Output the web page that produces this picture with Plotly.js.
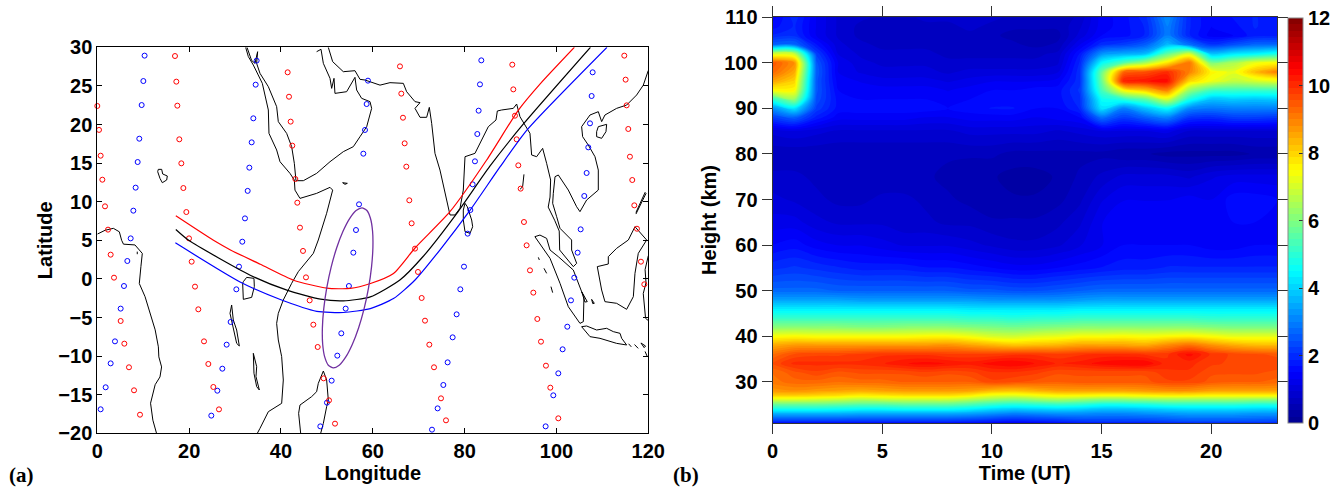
<!DOCTYPE html>
<html><head><meta charset="utf-8">
<script src="https://cdn.plot.ly/plotly-3.0.1.min.js"></script>
<style>html,body{margin:0;padding:0;background:#fff}#p{width:1339px;height:488px}</style>
</head><body><div id="p"></div>
<script>
// ---- panel (a) data: longitude / latitude
const blueLon=[10.3,10.03,9.66,9.15,8.79,8.35,7.85,7.27,6.54,5.81,5.09,3.85,2.91,1.82,0.73,
 34.7,34.49,33.98,33.62,33.11,32.75,32.16,31.58,30.86,30.28,29.04,28.17,27.23,26.14,24.83,
 58.95,58.66,58.3,57.94,57.0,56.34,55.76,54.8,54.09,53.14,52.27,51.04,50.02,48.57,
 83.63,83.34,83.05,82.76,82.25,81.75,81.24,80.66,79.86,79.06,78.26,77.39,76.3,75.36,74.12,72.89,
 107.88,107.66,107.3,106.93,106.57,106.06,105.27,104.61,103.88,103.16,102.36,101.34,100.4,99.31,97.64];
const blueLat=[28.92,25.63,22.52,18.16,15.14,11.82,8.84,5.25,2.32,-0.92,-3.85,-8.09,-10.94,-14.04,-16.89,
 28.27,25.16,20.8,17.69,14.41,11.4,7.84,4.82,1.59,-1.35,-5.58,-8.52,-11.63,-14.48,-17.71,
 25.68,22.65,19.29,16.22,9.66,6.33,3.4,-0.92,-3.85,-7.05,-9.94,-13.18,-16.03,-19.1,
 28.31,25.2,21.79,18.77,15.23,12.25,8.92,5.86,1.59,-1.35,-4.59,-7.57,-10.81,-13.74,-16.77,-19.53,
 26.76,23.69,20.15,17.04,13.72,10.74,6.42,3.4,0.16,-2.78,-6.19,-9.12,-12.23,-15.08,-19.1];
const redLon=[0,0.37,0.73,1.1,1.68,2.33,2.91,3.64,5.09,5.89,6.9,8.0,9.3,
 16.92,17.21,17.43,17.86,18.3,18.74,19.39,19.97,20.55,21.28,22.0,23.24,24.18,25.27,26.5,
 41.46,41.75,42.11,42.47,43.13,43.56,44.14,44.8,45.45,46.25,47.05,48.0,49.3,50.46,51.77,
 65.92,66.21,66.57,66.94,67.3,67.95,68.46,69.19,69.84,70.64,71.37,72.31,73.33,74.85,75.94,
 90.38,90.6,90.96,91.33,91.69,92.2,92.92,93.5,94.23,94.96,95.83,96.63,97.71,98.66,100.4,
 114.77,115.06,115.28,115.64,116.0,116.51,116.95,117.53,118.4,119.13];
const redLat=[22.4,19.3,15.96,12.85,9.4,6.38,3.14,0.16,-5.45,-8.39,-11.45,-14.43,-17.59,
 28.87,25.55,22.44,18.08,14.97,11.77,8.66,5.25,2.23,-1.0,-3.94,-8.09,-11.02,-14.0,-16.9,
 26.76,23.6,20.37,17.26,12.94,9.87,6.64,3.62,0.2,-2.78,-5.93,-8.82,-12.88,-15.73,-18.75,
 27.53,24.0,20.88,17.56,14.54,10.18,7.2,3.92,0.9,-2.47,-5.41,-8.52,-11.45,-15.47,-18.32,
 27.75,24.55,21.14,18.08,14.71,11.69,7.37,4.35,1.11,-1.78,-5.19,-8.13,-11.24,-14.09,-18.06,
 28.92,25.81,22.48,19.42,15.83,12.81,9.53,6.5,2.23,-0.7];

const redCurveLon=[17.1,25.3,29.1,35.5,42.75,50,55.1,59.5,64.5,69.2,76.8,84.8,91.75,96.5,103.9];
const redCurveLat=[8.17,5.0,3.72,1.9,-0.17,-1.2,-1.24,-0.6,0.7,4.0,8.7,15.4,21.9,25.3,30];
const blackCurveLon=[17.1,19.9,33.3,41.3,48.6,53.6,59.45,65.9,70.9,78.3,85.5,92.85,107.4];
const blackCurveLat=[6.4,5.0,0.48,-1.46,-2.63,-2.85,-2.33,-0.14,2.87,8.5,14.6,20.1,30];
const blueCurveLon=[17,31.1,39.85,47.8,53.6,59.45,64.5,69.2,74.6,81.2,87.7,93.6,111];
const blueCurveLat=[4.67,-0.4,-2.67,-4.2,-4.35,-3.85,-2.55,-0.14,3.74,8.9,14.5,19.3,30];

const ellipseLon=[57.65,58.72,59.5,59.95,60.02,59.72,59.07,58.11,56.9,55.53,54.09,52.68,51.4,50.32,49.54,49.09,49.02,49.32,49.97,50.93,52.14,53.51,54.95,56.36,57.65];
const ellipseLat=[9.21,8.86,7.82,6.17,4.03,1.53,-1.16,-3.85,-6.35,-8.49,-10.14,-11.18,-11.53,-11.18,-10.14,-8.49,-6.35,-3.85,-1.16,1.53,4.03,6.17,7.82,8.86,9.21];

// coastlines, pieces separated by null
const coastLon=[
 0,1.7,3.5,4.8,5.3,5.7,8.2,9.3,9.8,9.5,9.15,10.4,11.6,12.6,13.3,13.4,14,13.65,12.6,11.6,12.1,12.9,null,
 32.31,32.89,33.98,35.94,37.25,37.39,39.06,39.79,41.96,42.91,43.05,44.14,47.77,50.68,51.26,49.95,48.13,47.05,43.78,42.33,40.51,39.42,39.06,39.42,40.15,40.51,40.15,37.25,35.43,34.85,null,
 32.6,33.6,34.34,34.92,34.7,35.43,37.25,39.06,39.42,41.24,42.33,42.91,43.27,44.87,47.77,50.68,53.58,55.76,57.21,58.66,59.75,59.39,57.57,56.48,56.12,54.3,51.76,51.55,51.04,50.68,49.23,48.72,47.77,null,
 50.31,51.26,53.58,56.12,57.21,58.3,61.57,63.74,66.65,67.37,69.19,70.28,69.19,70.28,71.73,72.31,72.82,73.54,74.63,75.72,76.81,77.9,78.99,79.71,80.08,82.25,85.16,86.83,87.12,88.06,90.6,91.33,92.05,94.23,94.59,95.68,96.99,97.86,98.73,98.6,98.2,99.6,100.6,100.7,103.67,104.4,103.3,103.3,102.94,100.77,100.04,99.17,99.31,99.68,100.4,101.13,102.58,104.39,105.12,106.57,109.11,109.11,108.39,106.93,105.7,105.48,107.3,109.11,109.84,110.56,113.1,115.28,117.46,118.91,119.78,120,null,
 95.3,96.4,97.86,98.6,100.4,103.67,105.48,105.99,105.85,105.12,102.58,100.77,98.6,95.3,null,
 105.48,107.3,109.48,113.1,115.28,114.2,113.84,112.38,110.93,108.75,106.57,105.48,null,
 108.89,111.29,111.29,113.1,115.65,117.1,119.64,117.82,117.1,116.74,115.28,113.1,110.56,109.84,108.89,null,
 120,119.3,119.5,118.9,119.4,120,null,
 117.31,119.5,119.3,117.31,null,
 49.23,48.13,47.77,46.68,44.14,43.85,44.29,null,
 49.23,49.95,50.31,49.95,49.23,48.65,null,
 31.8,32.53,34.12,34.2,33.62,31.8,31.66,31.8,null,
 29.26,29.62,30.35,30.93,30.35,29.77,28.9,29.26,null,
 33.98,34.71,34.56,35.29,34.71,34.12,33.98,null,
 13.29,14.02,14.24,15.25,15.11,14.16,13.65,13.15,13.29,null,
 53.43,54.45,53.94,53.43,null,
 108.75,109.11,110.93,110.78,109.84,108.75,108.75,null,
 80.08,80.58,81.53,81.75,81.17,80.08,79.71,79.71,80.08,null,
 92.92,92.63,92.05,null,
 96.05,96.27,null,97.28,97.86,null,98.8,99.17,null,
 105.48,106.71,106.2,105.48,null,107.66,108.24,107.9,107.66,null,8.7,8.7,null,
 115.7,116.3,null,117,117.8,null,118.4,119.4,119.1,118.4,null,119.3,119.8];
const coastLat=[
 5.8,6.3,6.55,6.1,5,4.5,4.4,3.7,3.3,1.6,-0.6,-2.3,-4.5,-6.6,-8.8,-10.1,-11.4,-12.7,-13.7,-16.1,-18.3,-20,null,
 30,28.8,27.7,25.33,21.88,18.85,16.7,15.18,13.67,12.81,11.5,10.43,11.08,11.86,11.5,8.5,5.04,3.31,0.94,-0.57,-2.73,-4.46,-5.76,-7.91,-10.07,-13.1,-16.12,-17.2,-19.36,-20,null,
 30,28.3,27.92,29.43,27.92,26.63,24.9,22.31,20.37,18.85,17.13,14.97,12.72,12.72,13.67,15.18,16.48,17.13,18.42,19.7,22.09,22.96,23.39,24.47,26.11,24.25,24.03,25.98,24.68,25.98,27.92,29.74,29.43,null,
 30,28.14,26.84,26.97,25.85,25.76,25.1,25.42,25.33,24.25,22.96,22.83,22.09,20.93,20.93,22.22,20.15,16.26,14.1,11.08,8.28,8.28,9.14,11.51,15.83,16.26,19.72,20.58,21.75,21.88,22.09,22.65,21.01,18.85,16.05,15.83,16.91,14.97,12.81,10.6,9.3,7.6,6.2,3.74,1.59,2.02,3.74,5.04,5.25,6.55,8.06,9.79,11.08,13.24,13.46,12.81,11.51,9.35,8.71,10.22,11.51,14.1,15.83,17.34,18.42,19.72,21.23,21.66,20.37,21.23,22.09,22.52,23.82,25.1,26.63,27,null,
 5.47,5.68,5.25,3.74,2.88,1.15,-1.65,-2.3,-5.54,-5.76,-3.6,-0.57,2.66,5.47,null,
 -6.19,-7.48,-7.7,-8.35,-8.56,-7.7,-7.05,-6.83,-6.4,-6.62,-6.1,-6.19,null,
 1.59,1.93,2.88,3.96,5.04,6.76,5.04,3.31,0.72,-2.3,-3.94,-3.16,-2.95,-1.44,1.59,null,
 3,1.2,-0.5,-1.9,-5.1,-5.4,null,
 8.4,11.08,11.2,8.6,null,
 -11.93,-13.53,-14.61,-15.25,-16.34,-17.41,-20,null,
 -11.93,-13.1,-15.69,-16.55,-18.71,-20,null,
 -0.36,0.2,0.07,-1.0,-2.39,-2.65,-0.57,-0.36,null,
 -3.38,-5.32,-6.62,-8.69,-8.35,-6.62,-4.46,-3.38,null,
 -9.64,-11.37,-12.66,-14.39,-13.96,-12.23,-9.64,null,
 14.19,14.19,13.59,13.33,12.81,12.46,13.02,13.89,14.19,null,
 12.46,12.38,12.25,12.46,null,
 19.07,19.72,20.02,19.07,18.21,18.42,19.07,null,
 9.79,9.35,7.63,6.76,5.9,6.12,7.63,8.92,9.79,null,
 13.54,11.94,11.6,null,
 2.79,2.45,null,1.37,0.72,null,-1.0,-1.78,null,
 -1.65,-2.95,-3.0,-1.65,null,-2.65,-3.16,-3.2,-2.65,null,3.53,3.2,null,
 -8.4,-8.8,null,-8.5,-9.0,null,-8.3,-8.7,-8.9,-8.3,null,-9.4,-10.1];

// ---- panel (b) data
const hours=[0,1,2,3,4,5,6,7,8,9,10,11,12,13,14,15,16,17,18,19,20,21,22,23];
const heights=[21,23,24,25,26,27,28,30,32,34,36,38,40,42,44,46,48,50,55,60,65,70,75,80,85,88,90,92,94,96,98,100,102,104,106,108,110];
const h21=[1.8,1.8,1.8,1.8,1.8,1.8,1.8,1.8,1.8,1.7,1.6,1.5,1.6,1.7,1.9,2.0,2.0,2.0,2.1,2.2,2.2,2.2,2.2,2.1];
const h23=[3.6,3.6,3.6,3.6,3.5,3.5,3.5,3.5,3.5,3.4,3.2,3.0,3.1,3.2,3.2,3.1,3.1,3.2,3.3,3.4,3.4,3.4,3.3,3.3];
const h24=[4.7,4.7,4.7,4.6,4.5,4.5,4.6,4.6,4.6,4.4,4.1,3.9,4.0,4.1,4.0,3.8,3.8,3.9,4.0,4.1,4.1,4.1,4.0,4.0];
const h25=[5.7,5.7,5.7,5.6,5.5,5.5,5.6,5.6,5.6,5.4,5.1,4.9,5.0,5.1,5.0,4.7,4.7,4.8,5.0,5.0,5.0,5.0,4.9,4.9];
const h26=[7.0,7.0,6.9,6.8,6.6,6.7,6.8,6.8,6.8,6.5,6.2,6.0,6.2,6.4,6.2,6.0,6.0,6.1,6.2,6.2,6.2,6.2,6.1,6.1];
const h27=[8.1,8.1,8.0,7.9,7.7,7.8,7.9,7.9,7.9,7.7,7.3,7.2,7.4,7.6,7.6,7.5,7.5,7.6,7.7,7.7,7.6,7.6,7.6,7.6];
const h28=[8.7,8.8,8.7,8.6,8.5,8.6,8.7,8.7,8.7,8.6,8.3,8.2,8.4,8.6,8.6,8.6,8.6,8.7,8.8,8.8,8.6,8.6,8.6,8.6];
const h30=[9.1,9.3,9.3,9.2,9.3,9.3,9.4,9.4,9.4,9.4,9.7,9.6,9.5,9.4,9.5,9.5,9.5,9.5,9.7,9.7,9.5,9.4,9.4,9.3];
const h32=[9.2,9.5,9.7,9.5,9.6,9.6,9.6,9.7,9.6,9.7,9.9,9.9,9.8,9.6,9.6,9.6,9.6,9.6,9.9,9.9,9.6,9.6,9.6,9.5];
const h34=[9.6,10,10,10,10,10.1,10.3,10.4,10.3,10.2,10.4,10.5,10.3,10.1,10.2,10.4,10.5,10.5,10,10,9.8,9.7,9.7,9.7];
const h36=[9.2,9.6,9.7,9.7,9.8,9.9,9.9,9.9,9.8,9.8,9.8,9.9,9.9,9.8,9.9,10,10,9.9,9.9,10.4,9.9,9.7,9.6,9.5];
const h38=[8.5,8.7,8.7,8.7,8.7,8.7,8.7,8.7,8.8,8.6,8.4,8.2,8.3,8.4,8.6,8.6,8.6,8.5,8.9,9.2,8.8,8.5,8.3,8.3];
const h40=[7.4,7.5,7.4,7.4,7.4,7.4,7.4,7.5,7.5,7.3,7.0,6.9,7.1,7.2,7.4,7.4,7.5,7.4,7.5,7.6,7.4,7.2,7.2,7.2];
const h42=[6.1,6.1,6.1,6.1,6.0,6.0,6.1,6.1,6.1,6.0,5.9,5.8,5.9,6.0,6.1,6.1,6.1,6.1,6.1,6.1,6.0,5.9,5.9,5.9];
const h44=[5.1,5.1,5.1,5.1,5.1,5.1,5.1,5.1,5.1,5.0,5.0,4.9,5.0,5.0,5.1,5.1,5.1,5.1,5.1,5.1,5.0,5.0,5.0,5.0];
const h46=[4.3,4.3,4.3,4.3,4.3,4.3,4.3,4.3,4.3,4.2,4.2,4.2,4.2,4.2,4.3,4.3,4.3,4.3,4.3,4.3,4.3,4.3,4.3,4.3];
const h48=[3.4,3.4,3.4,3.4,3.3,3.3,3.3,3.3,3.3,3.3,3.2,3.2,3.2,3.2,3.3,3.4,3.4,3.4,3.4,3.4,3.4,3.4,3.4,3.4];
const h50=[2.7,2.7,2.7,2.6,2.6,2.6,2.6,2.6,2.6,2.5,2.5,2.4,2.4,2.5,2.6,2.7,2.7,2.7,2.7,2.7,2.7,2.7,2.7,2.7];
const h55=[2.0,2.1,2.0,1.9,1.8,1.8,1.8,1.7,1.7,1.6,1.5,1.4,1.4,1.5,1.6,1.7,1.8,1.8,1.9,1.9,1.9,1.9,1.9,1.9];
const h60=[1.5,1.6,1.4,1.3,1.3,1.2,1.1,1.1,1.1,1.0,0.9,0.8,0.8,0.9,1.1,1.3,1.5,1.5,1.5,1.5,1.4,1.4,1.5,1.5];
const h65=[1.2,1.2,1.0,0.9,0.9,0.9,0.8,0.8,0.7,0.7,0.6,0.6,0.6,0.7,0.9,1.3,1.5,1.5,1.5,1.5,1.5,1.5,1.5,1.5];
const h70=[1.0,0.9,0.8,0.7,0.7,0.8,0.8,0.7,0.6,0.5,0.4,0.4,0.4,0.5,0.7,1.1,1.3,1.3,1.3,1.4,1.3,1.6,1.6,1.5];
const h75=[0.8,0.8,0.7,0.6,0.6,0.6,0.6,0.6,0.5,0.4,0.4,0.3,0.3,0.4,0.6,0.8,1.0,1.0,1.0,0.9,1.1,1.2,1.2,1.2];
const h80=[0.6,0.6,0.6,0.6,0.6,0.6,0.6,0.6,0.6,0.6,0.6,0.5,0.5,0.5,0.5,0.5,0.4,0.4,0.3,0.3,0.3,0.3,0.4,0.4];
const h85=[1.0,1.1,1.0,0.9,0.9,0.9,0.9,0.9,0.9,1.0,1.0,1.0,1.0,0.9,1.0,1.1,1.1,1.1,1.2,0.9,0.9,0.9,0.9,0.9];
const h88=[2.2,2.6,1.8,1.4,1.4,1.4,1.4,1.3,1.3,1.4,1.4,1.4,1.3,1.4,1.5,2.8,2.2,2.6,3.0,2.1,2.0,2.2,2.2,2.1];
const h90=[3.2,4.2,2.2,1.6,1.6,1.6,1.6,1.6,1.5,1.6,1.7,1.7,1.5,1.5,1.9,4.2,3.0,3.8,4.5,3.1,2.9,3.0,3.0,3.0];
const h92=[5.0,6.3,2.4,1.6,1.5,1.5,1.5,1.5,1.4,1.5,1.6,1.6,1.6,1.6,2.0,4.6,5.0,5.6,7.0,4.8,3.8,3.9,3.8,3.9];
const h94=[7.5,7.5,2.5,1.5,1.4,1.4,1.4,1.4,1.3,1.4,1.5,1.5,1.6,1.6,2.1,5.3,7.5,8.2,9.0,6.3,5.3,5.2,5.2,5.2];
const h96=[8.6,8.0,2.5,1.4,1.3,1.2,1.2,1.2,1.1,1.2,1.3,1.3,1.3,1.4,2.0,5.7,10.2,10.3,10.4,8.0,7.3,6.8,7.0,7.2];
const h98=[9.3,8.5,2.6,1.3,1.1,1.0,1.0,1.0,0.9,1.0,1.0,1.0,1.0,1.1,2.0,5.7,9.3,9.6,10.0,9.0,7.6,7.2,8.3,9.0];
const h100=[9.5,8.8,2.5,1.3,1.0,0.9,0.9,0.9,0.8,0.8,0.8,0.8,0.8,0.9,1.9,4.5,5.5,6.5,7.8,9.2,6.0,6.5,7.3,7.5];
const h102=[7.0,6.8,2.2,1.1,0.9,0.8,0.8,0.8,0.7,0.7,0.7,0.7,0.7,0.8,1.7,3.2,3.5,3.7,5.6,7.0,3.8,4.2,4.4,4.8];
const h104=[2.6,2.7,1.7,1.0,0.8,0.7,0.7,0.7,0.6,0.6,0.6,0.6,0.5,0.6,1.3,2.0,2.2,2.6,3.7,2.8,2.1,2.4,2.7,2.7];
const h106=[1.9,2.0,1.3,0.9,0.7,0.6,0.6,0.6,0.6,0.7,0.6,0.5,0.5,0.5,1.0,1.5,1.6,1.9,3.0,1.9,1.4,1.5,1.8,1.8];
const h108=[1.6,1.9,1.3,0.9,0.7,0.7,0.7,0.7,0.7,0.8,0.7,0.6,0.6,0.6,0.9,1.4,1.6,1.9,3.0,1.9,1.5,1.6,1.9,1.7];
const h110=[1.4,2.0,1.3,0.9,0.8,0.7,0.7,0.8,0.8,0.9,0.8,0.7,0.6,0.6,0.8,1.4,1.6,2.0,3.2,1.9,1.5,1.7,1.9,1.7];
const zGrid=[h21,h23,h24,h25,h26,h27,h28,h30,h32,h34,h36,h38,h40,h42,h44,h46,h48,h50,h55,h60,h65,h70,h75,h80,h85,h88,h90,h92,h94,h96,h98,h100,h102,h104,h106,h108,h110];

const W=1339,H=488;
const font='Liberation Sans';
const jet=[[0,'rgb(0,0,143)'],[0.125,'rgb(0,0,255)'],[0.375,'rgb(0,255,255)'],[0.625,'rgb(255,255,0)'],[0.875,'rgb(255,0,0)'],[1,'rgb(128,0,0)']];
const bold=(s,c)=>({family:font,size:s,color:c||'#000',weight:700});
const linT=(x,y,c,w)=>({type:'scatter',mode:'lines',x:x,y:y,line:{color:c,width:w,shape:'spline',smoothing:0.6},xaxis:'x',yaxis:'y',hoverinfo:'skip',showlegend:false});

const traces=[
 {type:'contour',x:hours,y:heights,z:zGrid,xaxis:'x2',yaxis:'y2',zmin:0,zmax:12,colorscale:jet,
  autocontour:false,contours:{coloring:'fill',start:0,end:12,size:0.1875,showlines:false},line:{width:0},
  colorbar:{x:1288.3/W,xanchor:'left',xpad:0,y:(H-423)/H,yanchor:'bottom',ypad:0,len:405/H,lenmode:'fraction',thickness:15,thicknessmode:'pixels',
    tickmode:'array',tickvals:[0,2,4,6,8,10,12],ticks:'inside',ticklen:4,tickwidth:1,tickcolor:'#333',tickfont:bold(20),outlinewidth:1,outlinecolor:'#888',ticklabelposition:'outside'}},
 {type:'scatter',mode:'lines',x:coastLon,y:coastLat,connectgaps:false,line:{color:'#000',width:1},xaxis:'x',yaxis:'y',hoverinfo:'skip',showlegend:false},
 {type:'scatter',mode:'markers',x:blueLon,y:blueLat,marker:{symbol:'circle-open',size:5,color:'#0000ff',line:{width:1,color:'#0000ff'}},xaxis:'x',yaxis:'y',cliponaxis:false,showlegend:false},
 {type:'scatter',mode:'markers',x:redLon,y:redLat,marker:{symbol:'circle-open',size:5,color:'#ff0000',line:{width:1,color:'#ff0000'}},xaxis:'x',yaxis:'y',cliponaxis:false,showlegend:false},
 linT(redCurveLon,redCurveLat,'#ff0000',1.2),
 linT(blackCurveLon,blackCurveLat,'#000000',1.2),
 linT(blueCurveLon,blueCurveLat,'#0000ff',1.2),
 linT(ellipseLon,ellipseLat,'#7030a0',1.3)
];
const axA={showgrid:false,zeroline:false,showline:true,linecolor:'#000',linewidth:1,mirror:'ticks',ticks:'inside',ticklen:5,tickwidth:1,tickcolor:'#000',tickfont:bold(20),automargin:false};
const axB={showgrid:false,zeroline:false,showline:true,linecolor:'#333',linewidth:1,mirror:'ticks',ticks:'outside',ticklen:10,tickwidth:1,tickcolor:'#333',tickfont:bold(20),automargin:false};
const layout={width:W,height:H,margin:{l:0,r:0,t:0,b:0},paper_bgcolor:'#fff',plot_bgcolor:'#fff',showlegend:false,font:{family:font},
 xaxis:Object.assign({},axA,{domain:[97.3/W,648.3/W],range:[0,120],tickmode:'array',tickvals:[0,20,40,60,80,100,120],anchor:'y',title:{text:'Longitude',font:bold(20),standoff:0}}),
 yaxis:Object.assign({},axA,{domain:[(H-433.3)/H,(H-47.3)/H],range:[-20,30],tickmode:'array',tickvals:[-20,-15,-10,-5,0,5,10,15,20,25,30],anchor:'x',title:{text:'Latitude',font:bold(20),standoff:0}}),
 xaxis2:Object.assign({},axB,{domain:[772.6/W,1277/W],range:[0,23],tickmode:'array',tickvals:[0,5,10,15,20],anchor:'y2',title:{text:'Time (UT)',font:bold(20),standoff:0}}),
 yaxis2:Object.assign({},axB,{domain:[(H-422.7)/H,(H-17.3)/H],range:[21,110],tickmode:'array',tickvals:[30,40,50,60,70,80,90,100,110],anchor:'x2',title:{text:'Height (km)',font:bold(20),standoff:2}}),
 annotations:[
  {text:'(a)',xref:'paper',yref:'paper',x:7/W,y:(H-475)/H,xanchor:'left',yanchor:'middle',showarrow:false,font:{family:'Liberation Serif',size:21,color:'#000',weight:700}},
  {text:'(b)',xref:'paper',yref:'paper',x:671/W,y:(H-475)/H,xanchor:'left',yanchor:'middle',showarrow:false,font:{family:'Liberation Serif',size:21,color:'#000',weight:700}}
 ]};
Plotly.newPlot('p',traces,layout,{displayModeBar:false,staticPlot:true});
</script></body></html>
